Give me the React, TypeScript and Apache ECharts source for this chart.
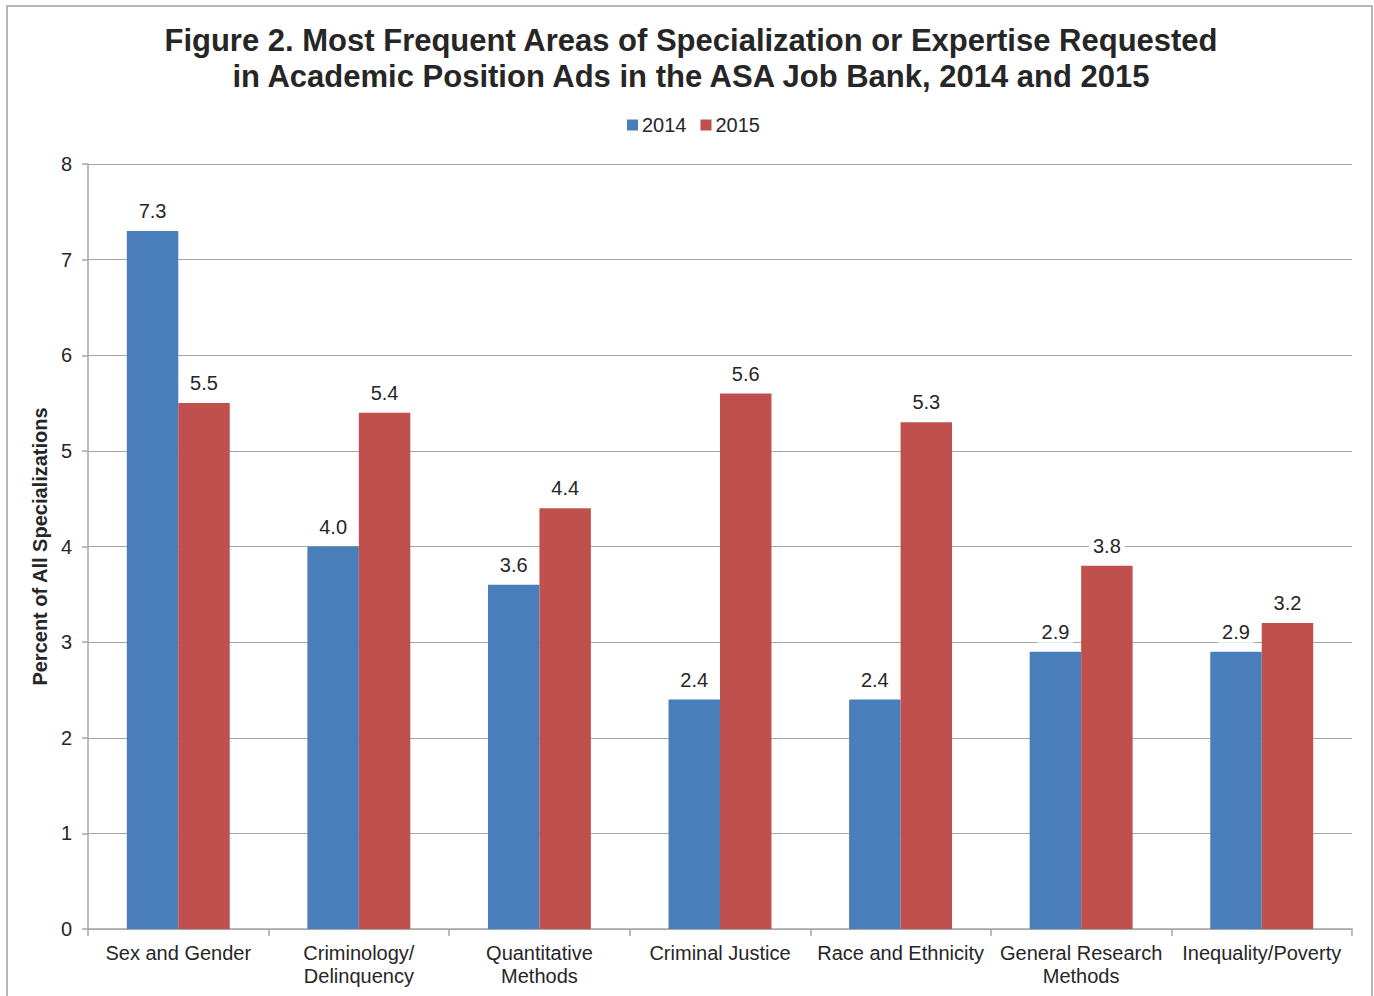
import React, { useEffect, useRef } from "react";
import * as echarts from "echarts";

const categories = [
  "Sex and Gender",
  "Criminology/\nDelinquency",
  "Quantitative\nMethods",
  "Criminal Justice",
  "Race and Ethnicity",
  "General Research\nMethods",
  "Inequality/Poverty",
];
const values2014 = [7.3, 4.0, 3.6, 2.4, 2.4, 2.9, 2.9];
const values2015 = [5.5, 5.4, 4.4, 5.6, 5.3, 3.8, 3.2];
const seriesNames = ["2014", "2015"];

const FONT = "'Liberation Sans', Arial, sans-serif";

export default function App() {
  const ref = useRef<HTMLDivElement>(null);
  useEffect(() => {
    document.body.style.margin = "0";
    const chart = echarts.init(ref.current!, null, { renderer: "svg" });
    const labelStyle = {
      show: true,
      position: "top" as const,
      distance: 9,
      fontSize: 20,
      fontFamily: FONT,
      color: "#262626",
      backgroundColor: "#ffffff",
      padding: [1, 4, 1, 4],
      formatter: (p: any) => Number(p.value).toFixed(1),
    };
    chart.setOption({
      animation: false,
      backgroundColor: "#ffffff",
      textStyle: { fontFamily: FONT },
      title: {
        text: "Figure 2. Most Frequent Areas of Specialization or Expertise Requested\nin Academic Position Ads in the ASA Job Bank, 2014 and 2015",
        left: 686,
        textAlign: "center",
        top: 17,
        textStyle: {
          fontSize: 31,
          fontWeight: "bold",
          fontFamily: FONT,
          color: "#262626",
          lineHeight: 36,
        },
      },
      legend: {
        data: seriesNames,
        top: 110,
        left: 622,
        itemWidth: 11,
        itemHeight: 11,
        itemGap: 14,
        icon: "rect",
        textStyle: { fontSize: 20, fontFamily: FONT, color: "#262626", padding: [0, 0, 0, -1] },
      },
      grid: { left: 88, right: 22, top: 164, bottom: 67, containLabel: false },
      xAxis: {
        type: "category",
        data: categories,
        axisLine: { lineStyle: { color: "#a6a6a6", width: 1.5 } },
        axisTick: { show: true, alignWithLabel: false, length: 7, lineStyle: { color: "#a6a6a6", width: 1.5 } },
        axisLabel: {
          fontSize: 20,
          fontFamily: FONT,
          color: "#262626",
          lineHeight: 23,
          margin: 12,
          interval: 0,
        },
      },
      yAxis: {
        type: "value",
        min: 0,
        max: 8,
        interval: 1,
        name: "Percent of All Specializations",
        nameLocation: "middle",
        nameGap: 36,
        nameTextStyle: { fontSize: 20, fontWeight: "bold", fontFamily: FONT, color: "#262626" },
        axisLine: { show: true, lineStyle: { color: "#a6a6a6", width: 1.5 } },
        axisTick: { show: true, length: 6, lineStyle: { color: "#a6a6a6", width: 1.5 } },
        axisLabel: { fontSize: 20, fontFamily: FONT, color: "#262626", margin: 16 },
        splitLine: { show: true, lineStyle: { color: "#a6a6a6", width: 1.2 } },
      },
      series: [
        {
          name: seriesNames[0],
          type: "bar",
          data: values2014,
          barGap: "0%",
          barCategoryGap: "43%",
          itemStyle: { color: "#4A7EBB" },
          label: labelStyle,
        },
        {
          name: seriesNames[1],
          type: "bar",
          data: values2015,
          itemStyle: { color: "#C0504D" },
          label: labelStyle,
        },
      ],
      graphic: [
        {
          type: "rect",
          shape: { x: 7, y: 6, width: 1365, height: 1010 },
          style: { fill: "none", stroke: "#a0a0a0", lineWidth: 1.5 },
          silent: true,
          z: -1,
        },
      ],
    });
    return () => chart.dispose();
  }, []);
  return <div ref={ref} style={{ width: 1374, height: 996 }} />;
}
